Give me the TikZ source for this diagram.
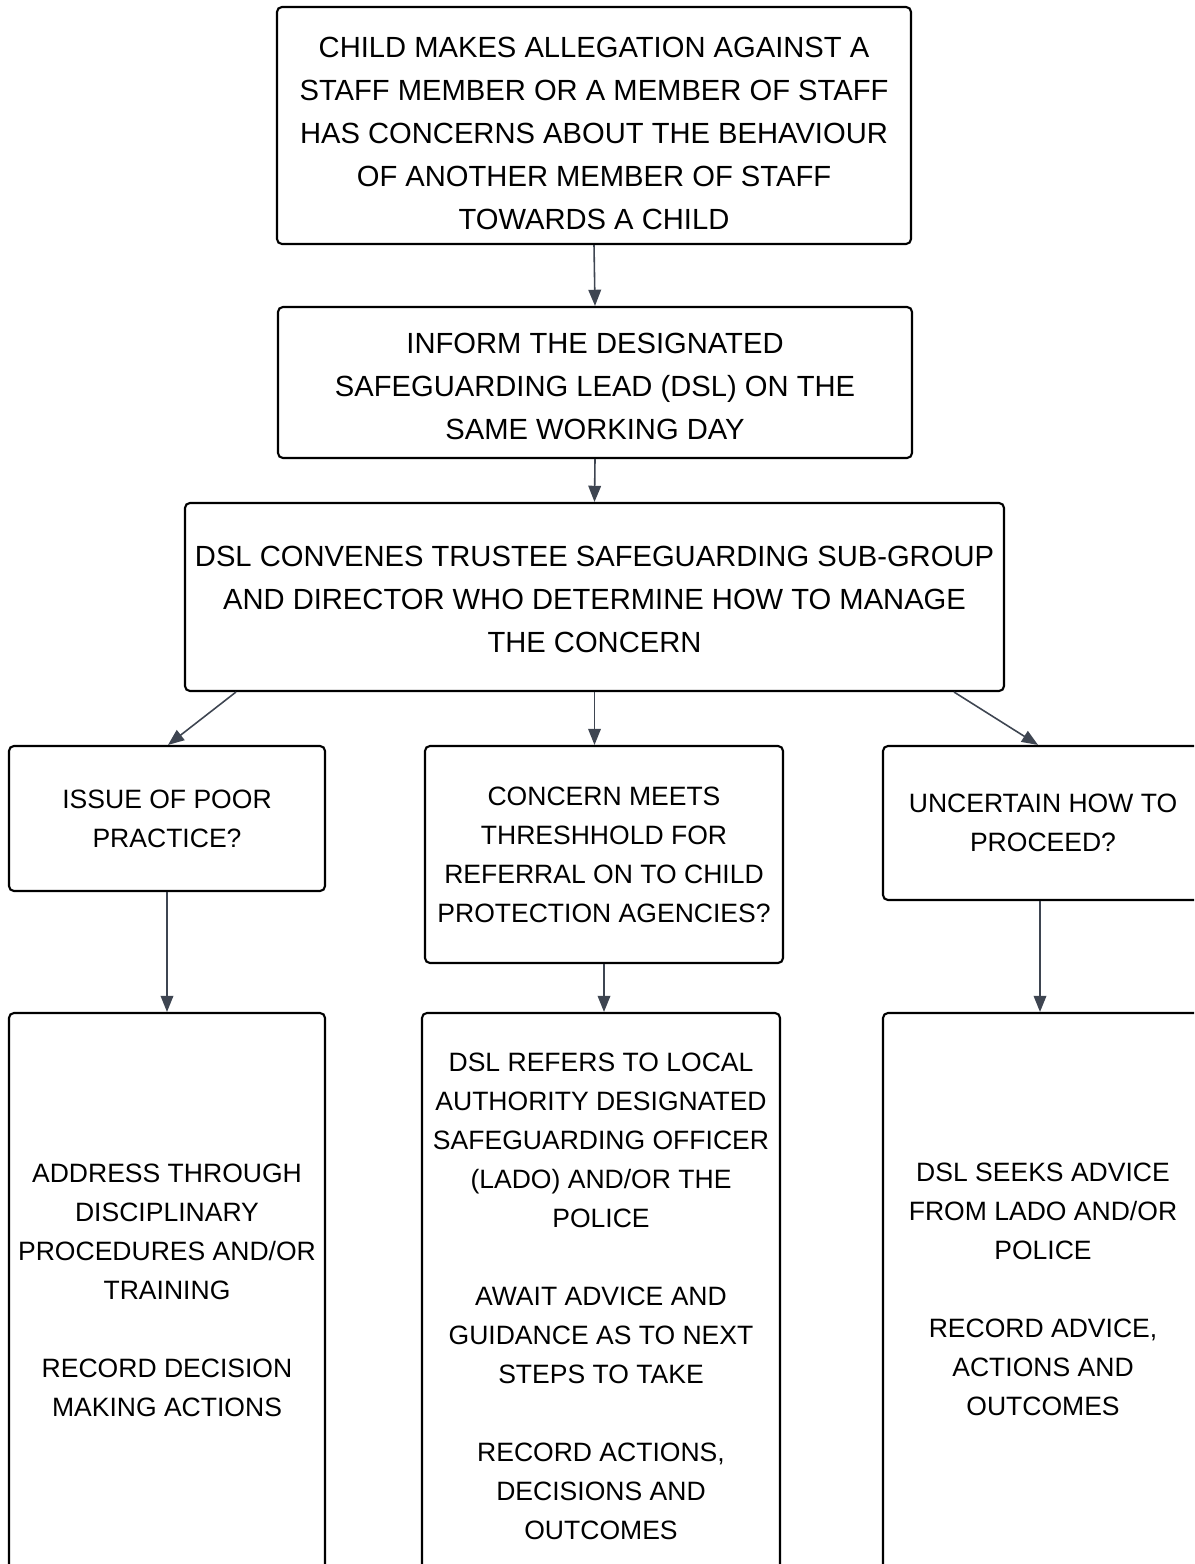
\documentclass[tikz,border=0pt]{standalone}
\usepackage{fontspec}
\setmainfont{Liberation Sans}
\usetikzlibrary{arrows.meta,positioning}
\definecolor{arrowgray}{HTML}{3E4551}

\begin{document}
\begin{tikzpicture}[x=0.1mm,y=-0.1mm,
  box/.style={draw=black,line width=0.6pt,rounded corners=1.4pt,align=center,inner sep=0pt},
  bigbox/.style={box,font=\fontsize{8.3}{12.23}\selectfont},
  smallbox/.style={box,font=\fontsize{7.55}{11.1}\selectfont},
  link/.style={draw=arrowgray,line width=0.45pt,-{Triangle[length=4.6pt,width=3.6pt]}}]
\useasboundingbox (0,0) rectangle (1194,1564);
\clip (0,0) rectangle (1194,1564);
% top of the chart
\node[bigbox,minimum width=63.4mm,minimum height=23.7mm] (allege) at (594,125.5)
  {\rule{0pt}{10.5pt}CHILD MAKES ALLEGATION AGAINST A\\STAFF MEMBER OR A MEMBER OF STAFF\\HAS CONCERNS ABOUT THE BEHAVIOUR\\OF ANOTHER MEMBER OF STAFF\\TOWARDS A CHILD};
\node[bigbox,minimum width=63.4mm,minimum height=15.1mm] (inform) at (595,382.5)
  {\rule{0pt}{8.2pt}INFORM THE DESIGNATED\\SAFEGUARDING LEAD (DSL) ON THE\\SAME WORKING DAY};
\node[bigbox,minimum width=81.9mm,minimum height=18.8mm] (convene) at (594.5,597)
  {\rule{0pt}{7pt}DSL CONVENES TRUSTEE SAFEGUARDING SUB-GROUP\\AND DIRECTOR WHO DETERMINE HOW TO MANAGE\\THE CONCERN};
% three questions
\node[smallbox,minimum width=31.6mm,minimum height=14.5mm] (poor) at (167,818.5)
  {ISSUE OF POOR\\PRACTICE?};
\node[smallbox,minimum width=35.8mm,minimum height=21.7mm] (meets) at (604,854.5)
  {CONCERN MEETS\\THRESHHOLD FOR\\REFERRAL ON TO CHILD\\PROTECTION AGENCIES?};
\node[smallbox,minimum width=32mm,minimum height=15.4mm] (unsure) at (1043,823)
  {UNCERTAIN HOW TO\\PROCEED?};
% outcomes
\node[smallbox,minimum width=31.6mm,minimum height=59.4mm,text depth=4mm] (address) at (167,1310)
  {ADDRESS THROUGH\\DISCIPLINARY\\PROCEDURES AND/OR\\TRAINING\\[11.1pt]RECORD DECISION\\MAKING ACTIONS};
\node[smallbox,minimum width=35.8mm,minimum height=60.6mm,text depth=4mm] (refer) at (601,1316)
  {DSL REFERS TO LOCAL\\AUTHORITY DESIGNATED\\SAFEGUARDING OFFICER\\(LADO) AND/OR THE\\POLICE\\[11.1pt]AWAIT ADVICE AND\\GUIDANCE AS TO NEXT\\STEPS TO TAKE\\[11.1pt]RECORD ACTIONS,\\DECISIONS AND\\OUTCOMES};
\node[smallbox,minimum width=32mm,minimum height=59.2mm,text depth=4mm] (advice) at (1043,1309)
  {DSL SEEKS ADVICE\\FROM LADO AND/OR\\POLICE\\[11.1pt]RECORD ADVICE,\\ACTIONS AND\\OUTCOMES};
% arrows
\draw[link] (allege.south) -- (inform.north);
\draw[link] (inform.south) -- (convene.north);
\draw[link] ([xshift=5.2mm]convene.south west) -- ([xshift=0.1mm]poor.north);
\draw[link] (convene.south) -- (convene.south |- meets.north);
\draw[link] ([xshift=-5.1mm]convene.south east) -- ([xshift=-0.5mm]unsure.north);
\draw[link] (poor.south) -- (address.north);
\draw[link] (meets.south) -- (meets.south |- refer.north);
\draw[link] ([xshift=-0.3mm]unsure.south) -- ([xshift=-0.3mm]advice.north);
\end{tikzpicture}
\end{document}
